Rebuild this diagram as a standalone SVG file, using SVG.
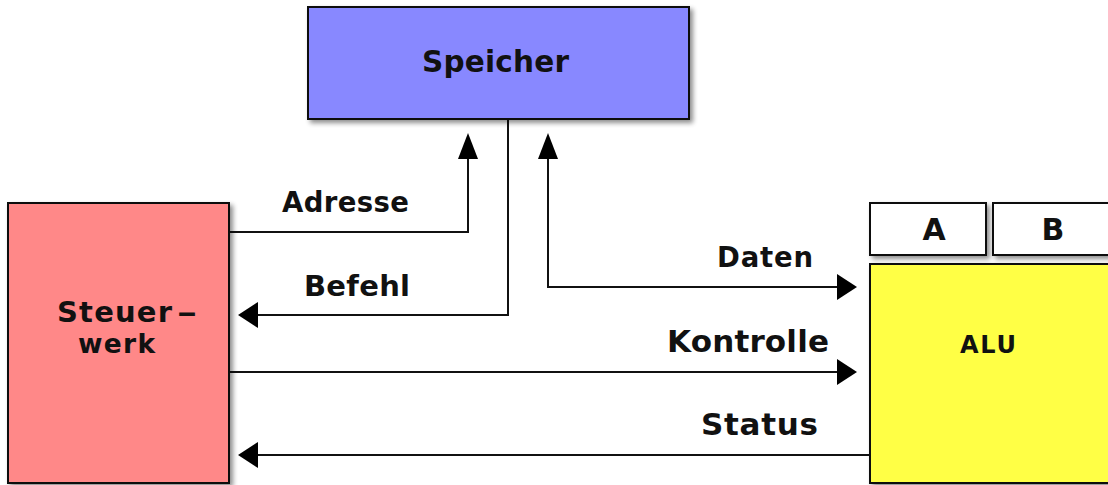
<svg xmlns="http://www.w3.org/2000/svg" width="1108" height="485" viewBox="0 0 1108 485">
<style>
.box{stroke:#111;stroke-width:2}
.t{font-family:"DejaVu Sans","Liberation Sans",sans-serif;font-weight:bold;fill:#111}
.c{fill:none;stroke:#111;stroke-width:2}
</style>
<defs>
<filter id="sh" x="-10%" y="-10%" width="130%" height="130%">
<feGaussianBlur in="SourceAlpha" stdDeviation="2.5"/>
<feOffset dx="3" dy="3" result="b"/>
<feComponentTransfer><feFuncA type="linear" slope="0.45"/></feComponentTransfer>
<feMerge><feMergeNode/><feMergeNode in="SourceGraphic"/></feMerge>
</filter>
<marker id="aH" markerUnits="userSpaceOnUse" viewBox="0 0 20 26" markerWidth="20" markerHeight="26" refX="4" refY="13" orient="auto-start-reverse"><path d="M0,0 L20,13 L0,26 z" fill="#000"/></marker>
<marker id="aV" markerUnits="userSpaceOnUse" viewBox="0 0 26 20" markerWidth="26" markerHeight="20" refX="4" refY="10" orient="auto-start-reverse"><path d="M0,0 L26,10 L0,20 z" fill="#000"/></marker>
</defs>
<rect width="1108" height="485" fill="#fff"/>
<g id="connectors">
<path class="c" d="M229,232 H468 V155" marker-end="url(#aV)"/>
<path class="c" d="M508,119 V315 H254" marker-end="url(#aH)"/>
<path class="c" d="M548,155 V287 H841" marker-start="url(#aV)" marker-end="url(#aH)"/>
<path class="c" d="M229,372 H841" marker-end="url(#aH)"/>
<path class="c" d="M870,455 H254" marker-end="url(#aH)"/>
<text class="t" x="282" y="212" font-size="27.5" textLength="127">Adresse</text>
<text class="t" x="304" y="296" font-size="29" textLength="106">Befehl</text>
<text class="t" x="717" y="267" font-size="27.5" textLength="96">Daten</text>
<text class="t" x="667" y="352" font-size="31" textLength="162">Kontrolle</text>
<text class="t" x="701" y="435" font-size="31" textLength="117">Status</text>
</g>
<g id="speicher">
<rect class="box" x="308" y="7" width="381" height="112" fill="#8888ff" filter="url(#sh)"/>
<text class="t" x="422" y="72" font-size="29.5" textLength="147">Speicher</text>
</g>
<g id="steuerwerk">
<rect class="box" x="8" y="203" width="221" height="280" fill="#ff8888" filter="url(#sh)"/>
<text class="t" x="57" y="322" font-size="29" textLength="115">Steuer</text>
<text class="t" x="177" y="322" font-size="28" textLength="20" lengthAdjust="spacingAndGlyphs">–</text>
<text class="t" x="78" y="353" font-size="26.5" textLength="77">werk</text>
</g>
<g id="regA">
<rect class="box" x="870" y="203" width="116" height="52" fill="#fff" filter="url(#sh)"/>
<text class="t" x="934" y="240" font-size="30" text-anchor="middle">A</text>
</g>
<g id="regB">
<rect class="box" x="993" y="203" width="116" height="52" fill="#fff" filter="url(#sh)"/>
<text class="t" x="1053" y="240" font-size="30" text-anchor="middle">B</text>
</g>
<g id="alu">
<rect class="box" x="870" y="264" width="240" height="219" fill="#ffff44" filter="url(#sh)"/>
<text class="t" x="960" y="353" font-size="24" textLength="56">ALU</text>
</g>
</svg>
